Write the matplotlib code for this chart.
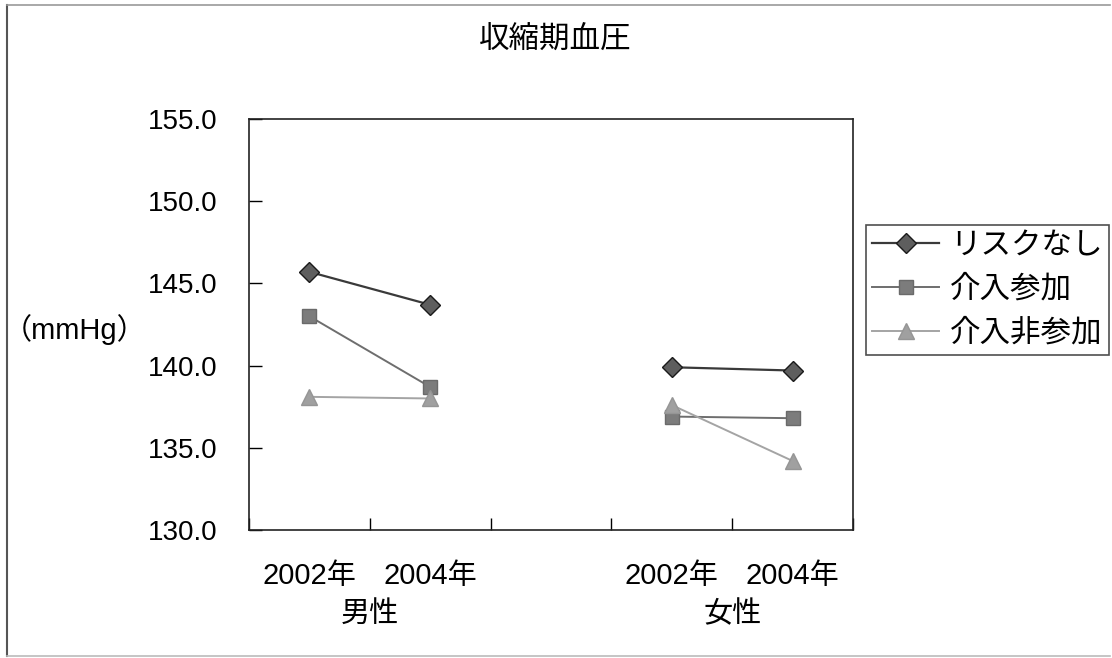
import matplotlib
matplotlib.use("Agg")
import matplotlib.pyplot as plt
import matplotlib.transforms as mtransforms
from matplotlib.lines import Line2D

plt.rcParams['font.family'] = ['Liberation Sans', 'Noto Sans CJK JP', 'DejaVu Sans']

# data
categories = ['2002年', '2004年', '', '2002年', '2004年']
groups = ['男性', '女性']
series = ['リスクなし', '介入参加', '介入非参加']
risk_none = [145.7, 143.7, None, 139.9, 139.7]
joined = [143.0, 138.7, None, 136.9, 136.8]
not_joined = [138.1, 138.0, None, 137.6, 134.2]
yticks = [130, 135, 140, 145, 150, 155]

styles = [
    dict(color='#3a3a3a', marker='D', markerfacecolor='#5e5e5e', markeredgecolor='#1a1a1a', markersize=10, lw=1.6),
    dict(color='#6e6e6e', marker='s', markerfacecolor='#7c7c7c', markeredgecolor='#6a6a6a', markersize=10, lw=1.4),
    dict(color='#a4a4a4', marker='^', markerfacecolor='#a0a0a0', markeredgecolor='#959595', markersize=11, lw=1.4),
]

fig = plt.figure(figsize=(11.12, 6.58), dpi=100)
ax = fig.add_axes([249 / 1112, 1 - 530 / 658, 604 / 1112, 411 / 658])

x = list(range(len(categories)))
handles = []
for name, vals, st in zip(series, [risk_none, joined, not_joined], styles):
    # draw each sex separately so the lines don't bridge the gap
    for seg in (slice(0, 2), slice(3, 5)):
        h, = ax.plot(x[seg], vals[seg], label=name, **st)
    handles.append(h)

ax.set_xlim(-0.5, 4.5)
ax.set_ylim(130, 155)
ax.set_yticks(yticks)
ax.set_yticklabels([f'{v:.1f}' for v in yticks], fontsize=20)
ax.tick_params(axis='y', direction='in', length=9, width=1, pad=23)

ax.set_xticks(x)
ax.set_xticklabels(categories, fontsize=21)
ax.tick_params(axis='x', which='major', length=0, pad=23)
ax.set_xticks([i + 0.5 for i in range(-1, 5)], minor=True)
ax.tick_params(axis='x', which='minor', direction='in', length=9, width=1)

for sp in ax.spines.values():
    sp.set_linewidth(1.2)
    sp.set_color('#222222')

trans = mtransforms.blended_transform_factory(ax.transData, fig.transFigure)
ax.text(0.5, 1 - 614 / 658, groups[0], transform=trans, ha='center', va='center', fontsize=21)
ax.text(3.5, 1 - 614 / 658, groups[1], transform=trans, ha='center', va='center', fontsize=21)

fig.text(555 / 1112, 1 - 40 / 658, '収縮期血圧', ha='center', va='center', fontsize=22)
fig.text(75 / 1112, 1 - 330 / 658, '（mmHg）', ha='center', va='center', fontsize=21)

leg = fig.legend(handles=handles, loc='upper left', bbox_to_anchor=(866 / 1112, 1 - 225 / 658),
                 fontsize=22, frameon=True, fancybox=False, edgecolor='#222222',
                 borderpad=0.2, labelspacing=0.45, handlelength=2.2, handletextpad=0.35,
                 borderaxespad=0)
leg.get_frame().set_linewidth(1.2)

# outer chart border (left, top, bottom)
fig.add_artist(Line2D([7 / 1112, 7 / 1112], [1 - 5 / 658, 1 - 656 / 658], transform=fig.transFigure, color='#555555', lw=1.5))
fig.add_artist(Line2D([7 / 1112, 1110 / 1112], [1 - 5 / 658, 1 - 5 / 658], transform=fig.transFigure, color='#999999', lw=1.2))
fig.add_artist(Line2D([7 / 1112, 1110 / 1112], [1 - 656 / 658, 1 - 656 / 658], transform=fig.transFigure, color='#bbbbbb', lw=1.2))

fig.savefig('out.png', dpi=100)
